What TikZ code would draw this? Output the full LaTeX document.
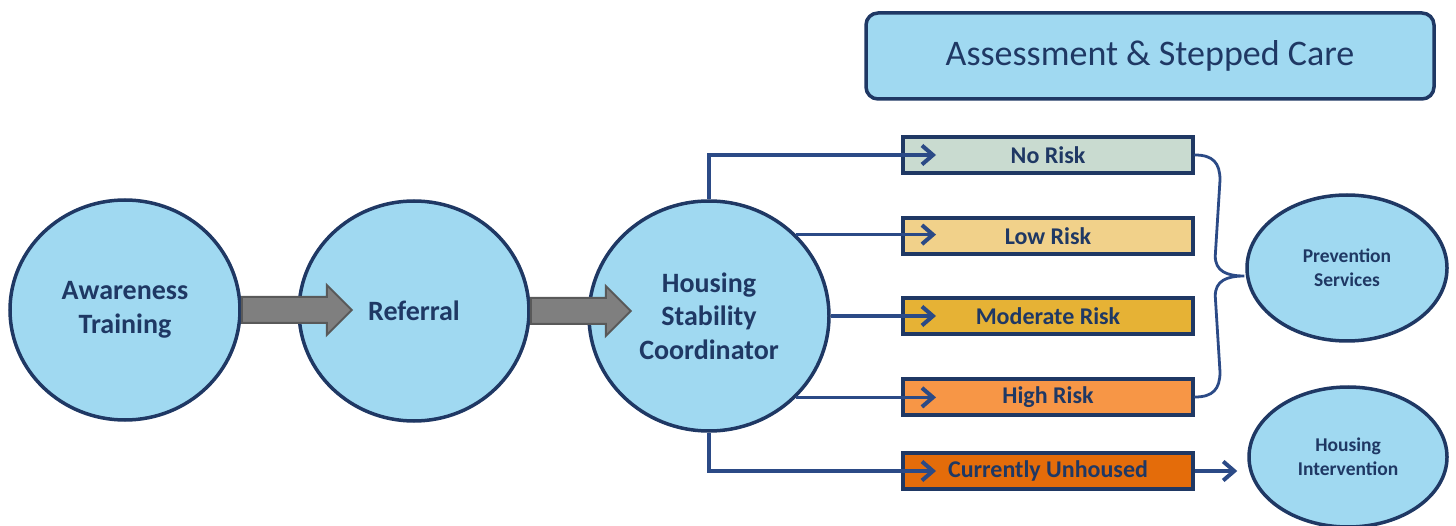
\documentclass[tikz,border=0pt]{standalone}
\usepackage{fontspec}
\setmainfont{Carlito}
\usetikzlibrary{arrows.meta,calc,shapes.geometric}
\definecolor{navy}{HTML}{1F3864}
\definecolor{conn}{HTML}{2B4A86}
\definecolor{skyfill}{HTML}{A0D9F1}
\definecolor{norisk}{HTML}{C9DBD0}
\definecolor{lowrisk}{HTML}{F1D18A}
\definecolor{modrisk}{HTML}{E6B235}
\definecolor{highrisk}{HTML}{F79646}
\definecolor{unhoused}{HTML}{E46C0A}
\definecolor{grayfill}{HTML}{7F7F7F}
\definecolor{grayedge}{HTML}{595959}
\begin{document}
\begin{tikzpicture}[x=1pt,y=-1pt,
  bubble/.style={ellipse,draw=navy,line width=3.5pt,fill=skyfill,inner sep=0pt,
    text=navy,font=\bfseries\fontsize{28}{33.5}\selectfont,align=center},
  smallbubble/.style={bubble,font=\bfseries\fontsize{19.5}{24}\selectfont},
  riskbox/.style={rectangle,draw=navy,line width=4pt,minimum width=290pt,minimum height=36pt,
    inner sep=0pt,text=navy,font=\bfseries\fontsize{24}{28}\selectfont},
  connector/.style={draw=conn,line width=3.3pt,-{Straight Barb[length=11pt,width=19pt,line width=4pt]}},
  blockarrow/.style={fill=grayfill,draw=grayedge,line width=2pt,line join=miter}
]
\useasboundingbox (0,0) rectangle (1456,526);

% title box
\node[rectangle,rounded corners=12pt,draw=navy,line width=3.5pt,fill=skyfill,
  minimum width=568pt,minimum height=86pt,text=navy,font=\fontsize{36}{40}\selectfont]
  (title) at (1150,56) {Assessment \& Stepped Care};

% main bubbles
\node[bubble,minimum width=230pt,minimum height=220pt] (aw) at (125,310) {Awareness\\Training};
\node[bubble,minimum width=230pt,minimum height=220pt] (ref) at (414,311) {Referral};

% risk boxes
\node[riskbox,fill=norisk] (nr) at (1048,155) {No Risk};
\node[riskbox,fill=lowrisk] (lr) at (1048,236) {Low Risk};
\node[riskbox,fill=modrisk] (mr) at (1048,316) {Moderate Risk};
\node[riskbox,fill=highrisk] (hr) at (1048,397) {High Risk};
\node[riskbox,fill=unhoused] (cu) at (1048,471) {Currently Unhoused};

% coordinator
\node[bubble,minimum width=240pt,minimum height=230pt] (hsc) at (709,316) {Housing\\Stability\\Coordinator};

% outcome bubbles
\node[smallbubble,minimum width=200pt,minimum height=146pt] (ps) at (1347,268) {Prevention\\Services};
\node[smallbubble,minimum width=198pt,minimum height=140pt] (hi) at (1348,457) {Housing\\Intervention};

% block arrows
\draw[blockarrow] ($(aw.east)+(0,-13)$) -- ++(85,0) -- ++(0,-12) -- ++(25,25) -- ++(-25,25)
  -- ++(0,-12) -- ++(-85,0) -- cycle;
\draw[blockarrow] ($(ref.east)+(0,-13)$) -- ++(75,0) -- ++(0,-12) -- ++(25,25) -- ++(-25,25)
  -- ++(0,-12) -- ++(-75,0) -- cycle;

% connectors
\coordinate (nrt) at ($(nr.west)+(35,0)$);
\coordinate (lrt) at ($(lr.west)+(35,0)$);
\coordinate (mrt) at ($(mr.west)+(35,0)$);
\coordinate (hrt) at ($(hr.west)+(35,0)$);
\coordinate (cut) at ($(cu.west)+(35,0)$);
\coordinate (hit) at ($(cu.east -| hi.west)+(-10,0)$);
\draw[connector] (hsc.north) |- (nrt);
\draw[connector] (hsc.43) -- (hsc.43 -| lrt);
\draw[connector] (hsc.east) -- (mrt);
\draw[connector] (hsc.-43) -- (hsc.-43 -| hrt);
\draw[connector] (hsc.south) |- (cut);
\draw[connector] (cu.east) -- (hit);

% brace
\coordinate (tip) at ($(ps.west)+(-1,8)$);
\draw[conn,line width=2.8pt,line cap=round]
  (nr.east) .. controls ($(nr.east)+(18,0)$) and ($(nr.east)+(25,8)$) .. ($(nr.east)+(25,25)$)
  -- ($(tip)+(-29,-20)$)
  .. controls ($(tip)+(-29,-5)$) and ($(tip)+(-18,0)$) .. (tip)
  .. controls ($(tip)+(-18,0)$) and ($(tip)+(-29,5)$) .. ($(tip)+(-29,20)$)
  -- ($(hr.east)+(25,-25)$)
  .. controls ($(hr.east)+(25,-8)$) and ($(hr.east)+(18,0)$) .. (hr.east);
\end{tikzpicture}
\end{document}
